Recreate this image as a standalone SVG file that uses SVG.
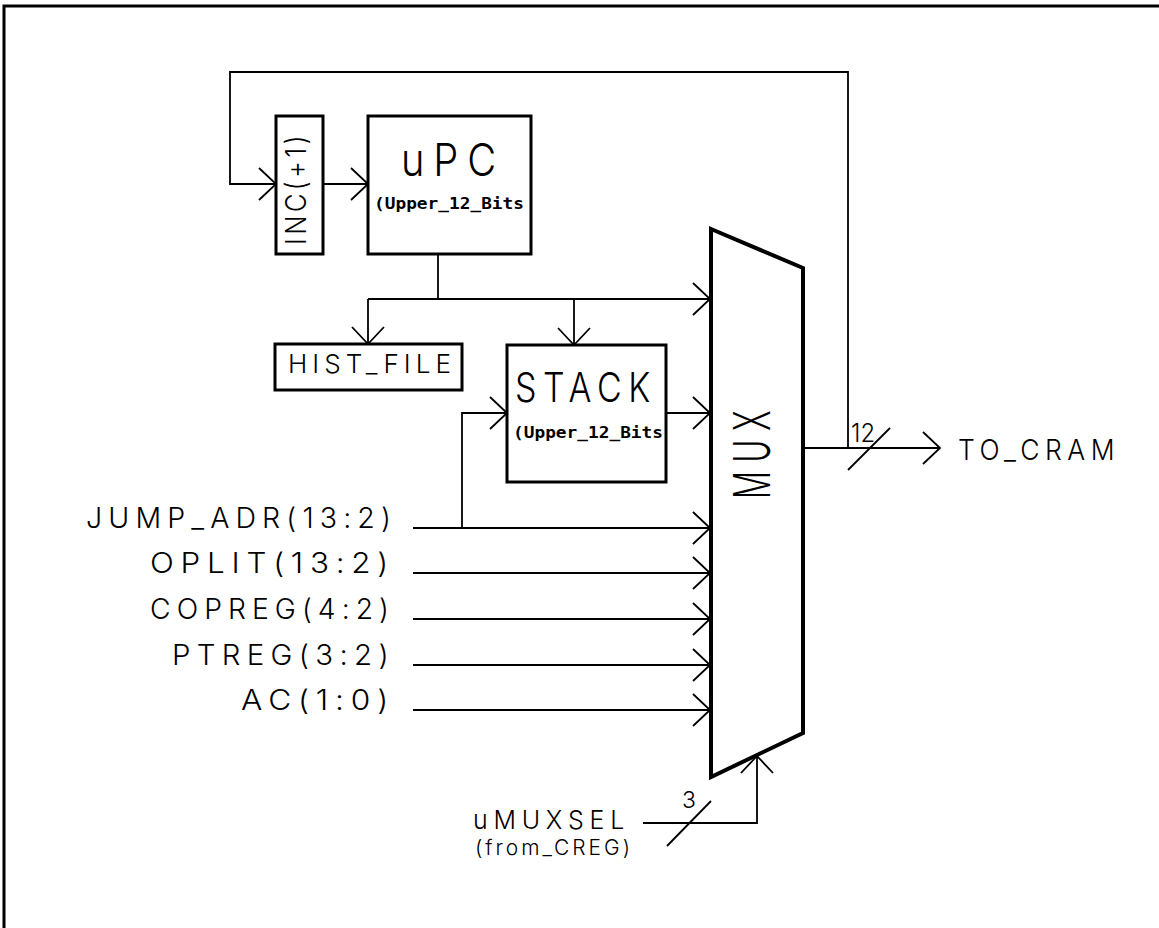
<svg xmlns="http://www.w3.org/2000/svg" width="1159" height="928" viewBox="0 0 1159 928">
<style>
.frame{fill:none;stroke:#000;stroke-width:3}
.box{fill:none;stroke:#000;stroke-width:3}
.mux{fill:#fff;stroke:#000;stroke-width:4;stroke-linejoin:miter}
.w{fill:none;stroke:#000;stroke-width:1.8}
.arr{marker-end:url(#ah)}
.t{font-family:Inter,"Liberation Sans",sans-serif;font-weight:300;fill:#000}
.n{font-family:Inter,"Liberation Sans",sans-serif;font-weight:300;fill:#000}
.sm{font-family:"DejaVu Sans Mono","Liberation Mono",monospace;font-weight:bold;fill:#000}
</style>
<defs>
<marker id="ah" viewBox="-19 -18 21 36" refX="0" refY="0" markerWidth="21" markerHeight="36" markerUnits="userSpaceOnUse" orient="auto">
<path d="M-17,-16 L0,0 L-17,16" fill="none" stroke="#000" stroke-width="1.8"/>
</marker>
</defs>
<rect width="1159" height="928" fill="#fff"/>
<path class="frame" d="M4,928 V6 H1159"/>

<g id="connectors">
<path class="w arr" d="M848,448 V72 H230 V184 H276"/>
<path class="w arr" d="M323,184 H368"/>
<path class="w" d="M438,254 V299"/>
<path class="w arr" d="M368,299 H710"/>
<path class="w arr" d="M368,299 V344"/>
<path class="w arr" d="M574,299 V345"/>
<path class="w arr" d="M666,413 H710"/>
<path class="w arr" d="M413,528 H710"/>
<path class="w arr" d="M462,528 V413 H507"/>
<path class="w arr" d="M413,573 H710"/>
<path class="w arr" d="M413,619 H710"/>
<path class="w arr" d="M413,665 H710"/>
<path class="w arr" d="M413,710 H710"/>
<path class="w arr" d="M803,448 H940"/>
<path class="w" d="M848,470 L890,428"/>
<text class="n" x="851" y="442" font-size="25" textLength="24" lengthAdjust="spacingAndGlyphs">12</text>
<path class="w arr" d="M643,823 H757 V756"/>
<path class="w" d="M667,846 L711,801"/>
<text class="n" x="682" y="808" font-size="23">3</text>
</g>

<g id="inc">
<rect class="box" x="276" y="116" width="47" height="138"/>
<text class="t" transform="translate(306,245) rotate(-90)" font-size="29" letter-spacing="4" textLength="113" lengthAdjust="spacingAndGlyphs">INC(+1)</text>
</g>

<g id="upc">
<rect class="box" x="368" y="116" width="163" height="138"/>
<text class="t" x="401" y="176" font-size="45" letter-spacing="10" textLength="104" lengthAdjust="spacingAndGlyphs">uPC</text>
<text class="sm" x="374" y="209" font-size="15" textLength="150" lengthAdjust="spacingAndGlyphs">(Upper_12_Bits</text>
</g>

<g id="hist_file">
<rect class="box" x="275" y="344" width="187" height="46"/>
<text class="t" x="288" y="373" font-size="26" letter-spacing="5" textLength="168" lengthAdjust="spacingAndGlyphs">HIST_FILE</text>
</g>

<g id="stack">
<rect class="box" x="507" y="345" width="159" height="137"/>
<text class="t" x="515" y="402" font-size="41" letter-spacing="8" textLength="142" lengthAdjust="spacingAndGlyphs">STACK</text>
<text class="sm" x="513" y="438" font-size="15" textLength="150" lengthAdjust="spacingAndGlyphs">(Upper_12_Bits</text>
</g>

<g id="mux">
<path class="mux" d="M711,229 L803,268 L803,733 L711,777 Z"/>
<text class="t" transform="translate(770,499) rotate(-90)" font-size="51" letter-spacing="14" textLength="97" lengthAdjust="spacingAndGlyphs">MUX</text>
</g>

<g id="inputs">
<text class="t" x="86" y="528" font-size="28" letter-spacing="6" textLength="311" lengthAdjust="spacingAndGlyphs">JUMP_ADR(13:2)</text>
<text class="t" x="150" y="573" font-size="28" letter-spacing="6" textLength="245" lengthAdjust="spacingAndGlyphs">OPLIT(13:2)</text>
<text class="t" x="150" y="619" font-size="28" letter-spacing="6" textLength="245" lengthAdjust="spacingAndGlyphs">COPREG(4:2)</text>
<text class="t" x="172" y="665" font-size="28" letter-spacing="6" textLength="223" lengthAdjust="spacingAndGlyphs">PTREG(3:2)</text>
<text class="t" x="241" y="710" font-size="28" letter-spacing="6" textLength="154" lengthAdjust="spacingAndGlyphs">AC(1:0)</text>
</g>

<g id="to_cram">
<text class="t" x="958" y="460" font-size="29" letter-spacing="6" textLength="162" lengthAdjust="spacingAndGlyphs">TO_CRAM</text>
</g>

<g id="umuxsel">
<text class="t" x="473" y="829" font-size="26" letter-spacing="6" textLength="157" lengthAdjust="spacingAndGlyphs">uMUXSEL</text>
<text class="t" x="475" y="855" font-size="21" letter-spacing="3" textLength="158" lengthAdjust="spacingAndGlyphs">(from_CREG)</text>
</g>
</svg>
